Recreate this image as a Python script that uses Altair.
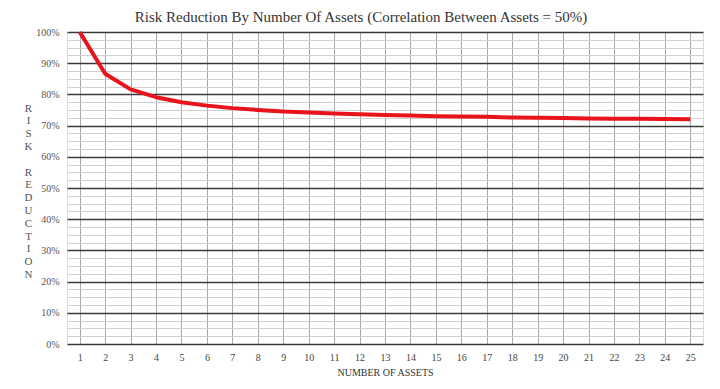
import altair as alt
import pandas as pd

assets = list(range(1, 26))
risk = [100.0, 86.6, 81.6, 79.1, 77.5, 76.4, 75.6, 75.0, 74.5, 74.2, 73.9, 73.6,
        73.4, 73.2, 73.0, 72.9, 72.8, 72.6, 72.5, 72.4, 72.3, 72.2, 72.2, 72.1, 72.0]
y_ticks = [i * 2.5 for i in range(41)]
x_ticks = assets
title_text = "Risk Reduction By Number Of Assets (Correlation Between Assets = 50%)"
y_title = ["R", "I", "S", "K", "\u200b", "R", "E", "D", "U", "C", "T", "I", "O", "N"]
x_title = "NUMBER OF ASSETS"

df = pd.DataFrame({"n": assets, "risk": risk})
FONT = "Liberation Serif"

chart = alt.Chart(df).mark_line(color="#e8131b", strokeWidth=4, strokeJoin="round").encode(
    x=alt.X("n:Q", scale=alt.Scale(domain=[0.5, 25.5], nice=False, zero=False),
            axis=alt.Axis(values=x_ticks, title=x_title, grid=True, gridColor="#a8a8a8",
                          gridWidth=1, ticks=False, domain=False, labelPadding=8,
                          labelFont=FONT, labelFontSize=10, labelColor="#444",
                          titleFont=FONT, titleFontSize=10, titleFontWeight="normal",
                          titleColor="#333", titlePadding=5)),
    y=alt.Y("risk:Q", scale=alt.Scale(domain=[0, 100], nice=False),
            axis=alt.Axis(values=y_ticks, title=y_title, grid=True,
                          gridColor=alt.condition("datum.value % 10 === 0", alt.value("#3a3a3a"), alt.value("#d0d0d0")),
                          gridWidth=alt.condition("datum.value % 10 === 0", alt.value(1.5), alt.value(1)),
                          labelExpr="datum.value % 10 === 0 ? datum.value + '%' : ''",
                          ticks=False, domain=False, labelPadding=8,
                          labelFont=FONT, labelFontSize=10, labelColor="#555",
                          titleFont=FONT, titleFontSize=11, titleFontWeight="normal",
                          titleColor="#555", titleAngle=0, titleAlign="center",
                          titleBaseline="top", titleX=-39, titleY=70, titleLineHeight=12.8)),
).properties(
    width=636, height=312,
    title=alt.TitleParams(title_text, font=FONT, fontSize=15, fontWeight="normal",
                          color="#333", anchor="middle", dx=-24, offset=2, frame="group"),
    autosize=alt.AutoSizeParams(type="none"),
    padding={"left": 59, "top": 24, "right": 9, "bottom": 37},
).configure_view(
    fill="#f3f3f3", stroke="#333", strokeWidth=2
).configure(background="white")

chart.save("out.html", embed_options={"renderer": "svg", "actions": False})
